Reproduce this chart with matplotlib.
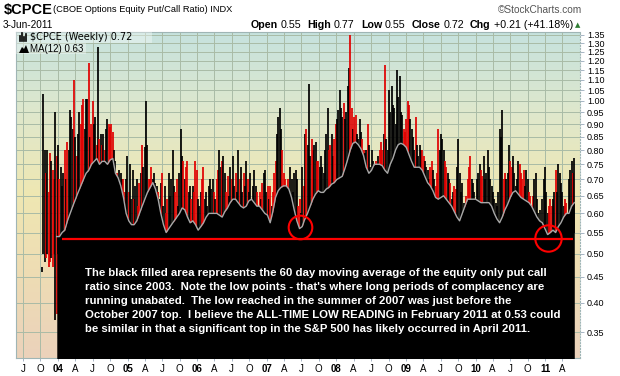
import numpy as np
import pandas as pd
import matplotlib
matplotlib.use('Agg')
import matplotlib.pyplot as plt
from matplotlib.patches import Rectangle, Polygon
from matplotlib.colors import LinearSegmentedColormap
from matplotlib.ticker import NullFormatter, NullLocator

# weekly $CPCE bars, first week ends 2003-10-10
first_week = '2003-10-10'
highs = [
    0.47, 1.03, 0.80, 0.72, 0.80, 0.66, 0.79, 0.76, 0.73, 0.70,
    0.95, 0.78, 0.82, 0.70, 0.74, 0.68, 0.72, 0.80, 0.70, 0.83,
    0.80, 0.96, 0.93, 0.88, 1.10, 0.85, 0.78, 0.86, 0.95, 0.90,
    0.98, 1.01, 0.88, 1.01, 1.01, 1.19, 0.85, 0.90, 1.00, 0.90,
    0.93, 0.82, 1.28, 0.84, 0.86, 0.82, 0.86, 0.80, 0.88, 0.92,
    0.90, 0.89, 0.90, 0.87, 0.80, 0.76, 0.72, 0.70, 0.73, 0.72,
    0.70, 0.70, 0.66, 0.70, 0.78, 0.66, 0.75, 0.64, 0.73, 0.64,
    0.68, 0.70, 0.62, 0.69, 0.72, 0.82, 0.74, 0.81, 1.00, 0.82,
    0.70, 0.70, 0.74, 0.70, 0.72, 0.69, 0.68, 0.66, 0.64, 0.69,
    0.72, 0.62, 0.68, 0.60, 0.64, 0.72, 0.65, 0.70, 0.80, 0.68,
    0.66, 0.70, 0.62, 0.72, 0.88, 0.78, 0.76, 0.70, 0.74, 0.76,
    0.66, 0.68, 0.64, 0.68, 0.66, 0.76, 0.73, 0.64, 0.62, 0.66,
    0.70, 0.74, 0.64, 0.66, 0.62, 0.68, 0.70, 0.67, 0.70, 0.66,
    0.64, 0.70, 0.73, 0.80, 0.74, 0.76, 0.78, 0.72, 0.66, 0.71,
    0.65, 0.74, 0.70, 0.78, 0.68, 0.72, 0.66, 0.80, 0.70, 0.74,
    0.66, 0.72, 0.68, 0.76, 0.70, 0.66, 0.72, 0.64, 0.68, 0.73,
    0.68, 0.66, 0.62, 0.66, 0.64, 0.69, 0.72, 0.73, 0.66, 0.68,
    0.64, 0.68, 0.62, 0.66, 0.72, 0.76, 0.86, 0.93, 0.97, 0.88,
    0.80, 0.72, 0.70, 0.68, 0.70, 0.67, 0.74, 0.70, 0.66, 0.72,
    0.73, 0.70, 0.62, 0.64, 0.60, 0.74, 0.68, 0.86, 0.88, 0.82,
    1.08, 0.78, 0.84, 0.80, 0.82, 0.83, 0.76, 0.76, 0.74, 0.78,
    0.74, 0.72, 0.80, 0.86, 0.97, 0.80, 0.82, 0.86, 0.78, 0.84,
    0.90, 0.92, 0.96, 1.05, 0.97, 0.93, 0.99, 0.92, 0.95, 1.07,
    1.16, 1.35, 0.97, 0.88, 0.93, 0.94, 0.86, 0.84, 0.92, 0.87,
    0.84, 0.80, 0.79, 0.80, 0.90, 0.82, 0.74, 0.80, 0.76, 0.72,
    0.76, 0.75, 0.78, 0.80, 0.83, 0.80, 0.86, 1.18, 0.84, 0.80,
    1.05, 0.95, 1.07, 0.98, 0.97, 0.90, 1.15, 1.02, 1.12, 0.95,
    0.94, 0.88, 0.87, 0.92, 1.00, 0.98, 0.92, 0.88, 0.85, 0.80,
    0.93, 0.82, 0.78, 0.82, 0.80, 0.80, 0.78, 0.76, 0.74, 0.73,
    0.70, 0.74, 0.76, 0.73, 0.70, 0.68, 0.72, 0.88, 0.80, 0.86,
    0.84, 0.80, 0.76, 0.74, 0.72, 0.70, 0.69, 0.64, 0.66, 0.68,
    0.67, 0.74, 0.84, 0.72, 0.66, 0.69, 0.63, 0.60, 0.65, 0.70,
    0.74, 0.78, 0.70, 0.69, 0.66, 0.64, 0.70, 0.72, 0.75, 0.73,
    0.71, 0.78, 0.70, 0.72, 0.80, 0.74, 0.70, 0.68, 0.66, 0.64,
    0.63, 0.62, 0.66, 0.88, 0.85, 0.96, 0.70, 0.72, 0.70, 0.72,
    0.82, 0.76, 0.74, 0.78, 0.72, 0.68, 0.70, 0.76, 0.75, 0.72,
    0.70, 0.73, 0.68, 0.73, 0.70, 0.66, 0.65, 0.62, 0.65, 0.70,
    0.72, 0.64, 0.60, 0.61, 0.58, 0.64, 0.70, 0.74, 0.66, 0.60,
    0.62, 0.64, 0.62, 0.64, 0.66, 0.73, 0.66, 0.75, 0.72, 0.69,
    0.66, 0.62, 0.64, 0.63, 0.60, 0.70, 0.73, 0.76, 0.72, 0.77,
]
lows = [
    0.46, 0.50, 0.48, 0.49, 0.50, 0.47, 0.48, 0.49, 0.47, 0.50,
    0.37, 0.38, 0.50, 0.52, 0.53, 0.52, 0.55, 0.54, 0.56, 0.55,
    0.57, 0.58, 0.56, 0.58, 0.60, 0.59, 0.58, 0.60, 0.62, 0.61,
    0.62, 0.63, 0.62, 0.64, 0.63, 0.62, 0.64, 0.63, 0.65, 0.64,
    0.64, 0.62, 0.63, 0.64, 0.62, 0.63, 0.64, 0.62, 0.63, 0.64,
    0.63, 0.62, 0.64, 0.63, 0.60, 0.59, 0.58, 0.57, 0.56, 0.57,
    0.56, 0.55, 0.54, 0.55, 0.54, 0.53, 0.55, 0.54, 0.56, 0.55,
    0.54, 0.55, 0.54, 0.56, 0.57, 0.58, 0.59, 0.60, 0.61, 0.60,
    0.61, 0.60, 0.62, 0.61, 0.60, 0.59, 0.58, 0.56, 0.55, 0.54,
    0.53, 0.52, 0.53, 0.52, 0.53, 0.54, 0.53, 0.55, 0.54, 0.55,
    0.56, 0.55, 0.57, 0.56, 0.58, 0.57, 0.56, 0.57, 0.55, 0.56,
    0.54, 0.55, 0.54, 0.53, 0.54, 0.53, 0.52, 0.53, 0.54, 0.53,
    0.55, 0.54, 0.56, 0.55, 0.57, 0.56, 0.58, 0.57, 0.56, 0.57,
    0.56, 0.57, 0.56, 0.58, 0.57, 0.56, 0.58, 0.57, 0.59, 0.58,
    0.59, 0.60, 0.59, 0.60, 0.58, 0.59, 0.60, 0.59, 0.58, 0.59,
    0.58, 0.57, 0.59, 0.58, 0.59, 0.60, 0.59, 0.58, 0.59, 0.58,
    0.58, 0.57, 0.56, 0.57, 0.56, 0.57, 0.56, 0.55, 0.56, 0.55,
    0.54, 0.55, 0.56, 0.58, 0.60, 0.61, 0.62, 0.63, 0.62, 0.63,
    0.62, 0.61, 0.60, 0.61, 0.60, 0.59, 0.58, 0.57, 0.56, 0.55,
    0.54, 0.55, 0.53, 0.54, 0.53, 0.54, 0.55, 0.56, 0.57, 0.58,
    0.59, 0.60, 0.61, 0.62, 0.61, 0.62, 0.61, 0.62, 0.63, 0.62,
    0.61, 0.62, 0.63, 0.62, 0.63, 0.64, 0.63, 0.64, 0.65, 0.64,
    0.65, 0.66, 0.65, 0.66, 0.67, 0.66, 0.67, 0.68, 0.69, 0.70,
    0.72, 0.74, 0.75, 0.76, 0.74, 0.73, 0.72, 0.71, 0.70, 0.69,
    0.68, 0.67, 0.66, 0.67, 0.68, 0.67, 0.66, 0.67, 0.68, 0.67,
    0.68, 0.67, 0.68, 0.67, 0.66, 0.67, 0.66, 0.65, 0.66, 0.67,
    0.68, 0.70, 0.72, 0.74, 0.75, 0.74, 0.76, 0.74, 0.75, 0.74,
    0.73, 0.74, 0.72, 0.71, 0.70, 0.68, 0.67, 0.66, 0.65, 0.64,
    0.65, 0.64, 0.63, 0.64, 0.62, 0.61, 0.62, 0.60, 0.61, 0.60,
    0.59, 0.58, 0.59, 0.58, 0.57, 0.58, 0.57, 0.58, 0.59, 0.58,
    0.59, 0.58, 0.59, 0.58, 0.57, 0.58, 0.57, 0.56, 0.57, 0.56,
    0.55, 0.56, 0.55, 0.54, 0.55, 0.56, 0.57, 0.56, 0.57, 0.58,
    0.59, 0.58, 0.59, 0.58, 0.57, 0.58, 0.59, 0.58, 0.57, 0.58,
    0.59, 0.58, 0.57, 0.58, 0.57, 0.58, 0.57, 0.56, 0.55, 0.54,
    0.55, 0.54, 0.55, 0.56, 0.55, 0.56, 0.57, 0.58, 0.57, 0.58,
    0.59, 0.58, 0.59, 0.58, 0.57, 0.58, 0.59, 0.58, 0.57, 0.58,
    0.57, 0.58, 0.57, 0.56, 0.57, 0.56, 0.55, 0.56, 0.55, 0.54,
    0.55, 0.54, 0.53, 0.54, 0.53, 0.54, 0.55, 0.54, 0.53, 0.52,
    0.53, 0.52, 0.53, 0.54, 0.53, 0.54, 0.55, 0.54, 0.55, 0.56,
    0.55, 0.56, 0.55, 0.54, 0.53, 0.52, 0.53, 0.52, 0.51, 0.55,
]
# r = down week (red), k = up week (black)
bar_colors = (
    "kkkrkrrkrr" "krkrkkkrkr" "kkkkrkrkkr" "rrkkkrkrrk" "krkrkrkrkk"
    "rrrrkkrkkk" "krrkkrkkkr" "kkrrkrkkkk" "rrrkkkkrkk" "rkkrrkkkkk"
    "rrkkkkrkrr" "kkrkrrrkkk" "rrkkkkkkkr" "krrkkrkkrr" "kkrkkrkkrk"
    "krkkrkkrkk" "krkrkrkkkr" "krkrrrkkkk" "rrrrrrkkkk" "kkrrkkrkrk"
    "kkrrkkrrkk" "kkkkkrrkkr" "rkkkkkrkkk" "krrkrrkkkk" "rrkkrkkkkr"
    "rrkrrrkrkk" "kkkkkkkkkk" "krrrrrkkkk" "rkkkkrrkkk" "krrkkrrrkk"
    "kkrrkkrkkr" "rkkkkkkkrr" "rrkkkkkkkr" "rkkkkkkkkk" "kkkkkkrrkk"
    "krrkkkkkrr" "rrkkkrrrrk" "kkkkkkkkkk" "rrrkkrkkkk" "kkrrkkkkrk"
)
# MA(12) of the weekly close, read every second week from week 12 on
ma12 = [
    0.54, 0.54, 0.55, 0.556, 0.58, 0.60, 0.62, 0.64, 0.66, 0.68,
    0.70, 0.72, 0.73, 0.75, 0.76, 0.77, 0.75, 0.76, 0.76, 0.75,
    0.765, 0.77, 0.72, 0.705, 0.68, 0.645, 0.60, 0.58, 0.57, 0.57,
    0.58, 0.60, 0.62, 0.64, 0.66, 0.675, 0.69, 0.67, 0.64, 0.60,
    0.57, 0.55, 0.56, 0.57, 0.58, 0.59, 0.60, 0.615, 0.61, 0.59,
    0.575, 0.58, 0.57, 0.556, 0.565, 0.575, 0.59, 0.60, 0.60, 0.60,
    0.60, 0.595, 0.59, 0.605, 0.615, 0.63, 0.64, 0.64, 0.63, 0.62,
    0.615, 0.62, 0.635, 0.64, 0.63, 0.62, 0.62, 0.61, 0.60, 0.595,
    0.575, 0.605, 0.645, 0.665, 0.675, 0.68, 0.68, 0.67, 0.645, 0.61,
    0.58, 0.56, 0.565, 0.585, 0.60, 0.62, 0.64, 0.655, 0.665, 0.66,
    0.66, 0.67, 0.675, 0.685, 0.69, 0.70, 0.705, 0.71, 0.735, 0.765,
    0.80, 0.825, 0.83, 0.82, 0.805, 0.78, 0.74, 0.72, 0.73, 0.75,
    0.75, 0.75, 0.745, 0.73, 0.72, 0.75, 0.77, 0.80, 0.82, 0.825,
    0.82, 0.81, 0.785, 0.76, 0.74, 0.74, 0.74, 0.73, 0.71, 0.69,
    0.68, 0.665, 0.645, 0.64, 0.645, 0.65, 0.64, 0.63, 0.62, 0.605,
    0.59, 0.58, 0.60, 0.62, 0.64, 0.64, 0.64, 0.64, 0.635, 0.63,
    0.63, 0.63, 0.63, 0.62, 0.60, 0.585, 0.575, 0.59, 0.61, 0.625,
    0.645, 0.66, 0.665, 0.655, 0.645, 0.64, 0.635, 0.63, 0.62, 0.605,
    0.59, 0.58, 0.575, 0.56, 0.545, 0.55, 0.556, 0.55, 0.565, 0.575,
    0.59, 0.60, 0.60, 0.62, 0.63,
]
low_line = 0.535
circle_dates = ['2007-06-22', '2011-01-14']
circle_vals = [0.565, 0.537]

note = [
    "The black filled area represents the 60 day moving average of the equity only put call",
    "ratio since 2003.  Note the low points - that's where long periods of complacency are",
    "running unabated.  The low reached in the summer of 2007 was just before the",
    "October 2007 top.  I believe the ALL-TIME LOW READING in February 2011 at 0.53 could",
    "be similar in that a significant top in the S&P 500 has likely occurred in April 2011.",
]

W, H = 620, 376
fx = lambda px: px / W
fy = lambda py: 1 - py / H

weeks = pd.date_range(first_week, periods=len(highs), freq='W-FRI')
ma_dates = weeks[11::2]

fig = plt.figure(figsize=(6.2, 3.76), dpi=100)
rect = [fx(16), fy(358), (580 - 16) / W, (358 - 32) / H]

# gradient background behind the plot
bg = fig.add_axes(rect, zorder=0)
cmap = LinearSegmentedColormap.from_list(
    'bg', [(0, '#ebd2bb'), (0.25, '#eedcb4'), (0.5, '#efe7b2'),
           (0.75, '#dfe8cc'), (1, '#c6e2de')])
bg.imshow(np.linspace(0, 1, 256).reshape(-1, 1), cmap=cmap, aspect='auto',
          origin='lower', extent=[0, 1, 0, 1])
bg.axis('off')

ax = fig.add_axes(rect, zorder=1)
ax.set_facecolor('none')
ax.set_yscale('log')

ax.vlines(weeks, lows, highs, colors=['#e00000' if c == 'r' else 'black' for c in bar_colors],
          lw=1.25, zorder=2)
ax.fill_between(ma_dates, ma12, 0.2, color='black', lw=0, zorder=3)
ax.plot(ma_dates, ma12, color='#a8a8a8', lw=1.0, zorder=4)
ax.hlines(low_line, weeks[15], weeks[398], color='red', lw=1.6, zorder=5)
ax.plot(pd.to_datetime(circle_dates[:1]), circle_vals[:1], 'o', ms=17, mfc='none',
        mec='red', mew=1.5, zorder=6)
ax.plot(pd.to_datetime(circle_dates[1:]), circle_vals[1:], 'o', ms=19, mfc='none',
        mec='red', mew=1.5, zorder=6)

ax.set_xlim(pd.Timestamp('2003-05-26'), pd.Timestamp('2011-07-03'))
ax.set_ylim(0.311, 1.368)

yt = np.round(np.arange(0.35, 1.351, 0.05), 2)
ax.yaxis.tick_right()
ax.set_yticks(yt)
ax.set_yticklabels(['%.2f' % v for v in yt])
ax.yaxis.set_minor_locator(NullLocator())
ax.yaxis.set_minor_formatter(NullFormatter())

xt = pd.date_range('2003-07-01', '2011-04-01', freq='QS-JAN')
letters = {1: None, 4: 'A', 7: 'J', 10: 'O'}
ax.set_xticks(xt)
ax.set_xticklabels([('%02d' % (d.year % 100)) if d.month == 1 else letters[d.month] for d in xt])
for d, lab in zip(xt, ax.get_xticklabels()):
    if d.month == 1:
        lab.set_fontweight('bold')

ax.tick_params(axis='both', labelsize=7, colors='#9ab', labelcolor='black', length=3, width=0.6)
ax.tick_params(axis='y', pad=2, labelsize=6.5)
ax.tick_params(axis='x', length=2, pad=2)
for lab in ax.get_xticklabels() + ax.get_yticklabels():
    lab.set_family('Liberation Sans')
ax.grid(True, color='#a9bba6', lw=0.7)
ax.set_axisbelow(True)
for s in ax.spines.values():
    s.set_color('#9fb5b5')
    s.set_linewidth(0.8)
ax.spines['right'].set_linestyle(':')

# legend block inside plot
fig.patches.append(Rectangle((fx(16), fy(43)), (152 - 16) / W, 11 / H, transform=fig.transFigure,
                             facecolor='white', alpha=0.35, lw=0, zorder=5))
fig.patches.append(Rectangle((fx(16), fy(54)), (86 - 16) / W, 11 / H, transform=fig.transFigure,
                             facecolor='white', alpha=0.35, lw=0, zorder=5))
for k, h in enumerate([5, 8, 4, 7]):
    xx = 20 + 2 * k
    fig.lines.append(plt.Line2D([fx(xx), fx(xx)], [fy(41), fy(41 - h)], transform=fig.transFigure,
                                color='black', lw=1.2, zorder=6))
fig.patches.append(Polygon([(fx(19), fy(53)), (fx(22), fy(47)), (fx(24), fy(49)),
                            (fx(26), fy(45)), (fx(29), fy(53))], closed=True,
                           transform=fig.transFigure, facecolor='black', zorder=6))
fig.text(fx(30), fy(37), '$CPCE (Weekly) 0.72', fontsize=7, family='DejaVu Sans',
         va='center', zorder=7)
fig.text(fx(30), fy(48.5), 'MA(12) 0.63', fontsize=7, family='Liberation Sans',
         va='center', zorder=7)

# annotation text over the black area
for k, line in enumerate(note):
    fig.text(fx(85), fy(273 + 14 * k), line, color='white', weight='bold', fontsize=8.2,
             family='Liberation Sans', va='center', zorder=8)

# header
fig.text(fx(4), fy(10), '$CPCE', fontsize=10.5, weight='bold', family='Liberation Sans',
         va='center')
fig.text(fx(53), fy(10), '(CBOE Options Equity Put/Call Ratio) INDX', fontsize=6.7,
         family='Liberation Sans', va='center')
fig.text(fx(582), fy(10), '\u00a9StockCharts.com', fontsize=7.3, family='Liberation Sans',
         color='#555555', ha='right', va='center')
fig.text(fx(3), fy(25), '3-Jun-2011', fontsize=7.2, family='Liberation Sans', va='center')

parts = [('Open', 'bold', 3), ('0.55', 'normal', 6), ('High', 'bold', 3), ('0.77', 'normal', 6),
         ('Low', 'bold', 3), ('0.55', 'normal', 6), ('Close', 'bold', 3), ('0.72', 'normal', 6),
         ('Chg', 'bold', 3), ('+0.21 (+41.18%)', 'normal', 0)]
renderer = fig.canvas.get_renderer()
x = 573
for s, w, gap in reversed(parts):
    x -= gap
    t = fig.text(fx(x), fy(25), s, fontsize=7.7, weight=w, family='Liberation Sans',
                 ha='right', va='center')
    x -= t.get_window_extent(renderer).width
fig.text(fx(578), fy(25), '\u25b2', fontsize=5, color='#2e7d32', ha='center', va='center',
         family='DejaVu Sans')

fig.savefig('out.png', dpi=100)
